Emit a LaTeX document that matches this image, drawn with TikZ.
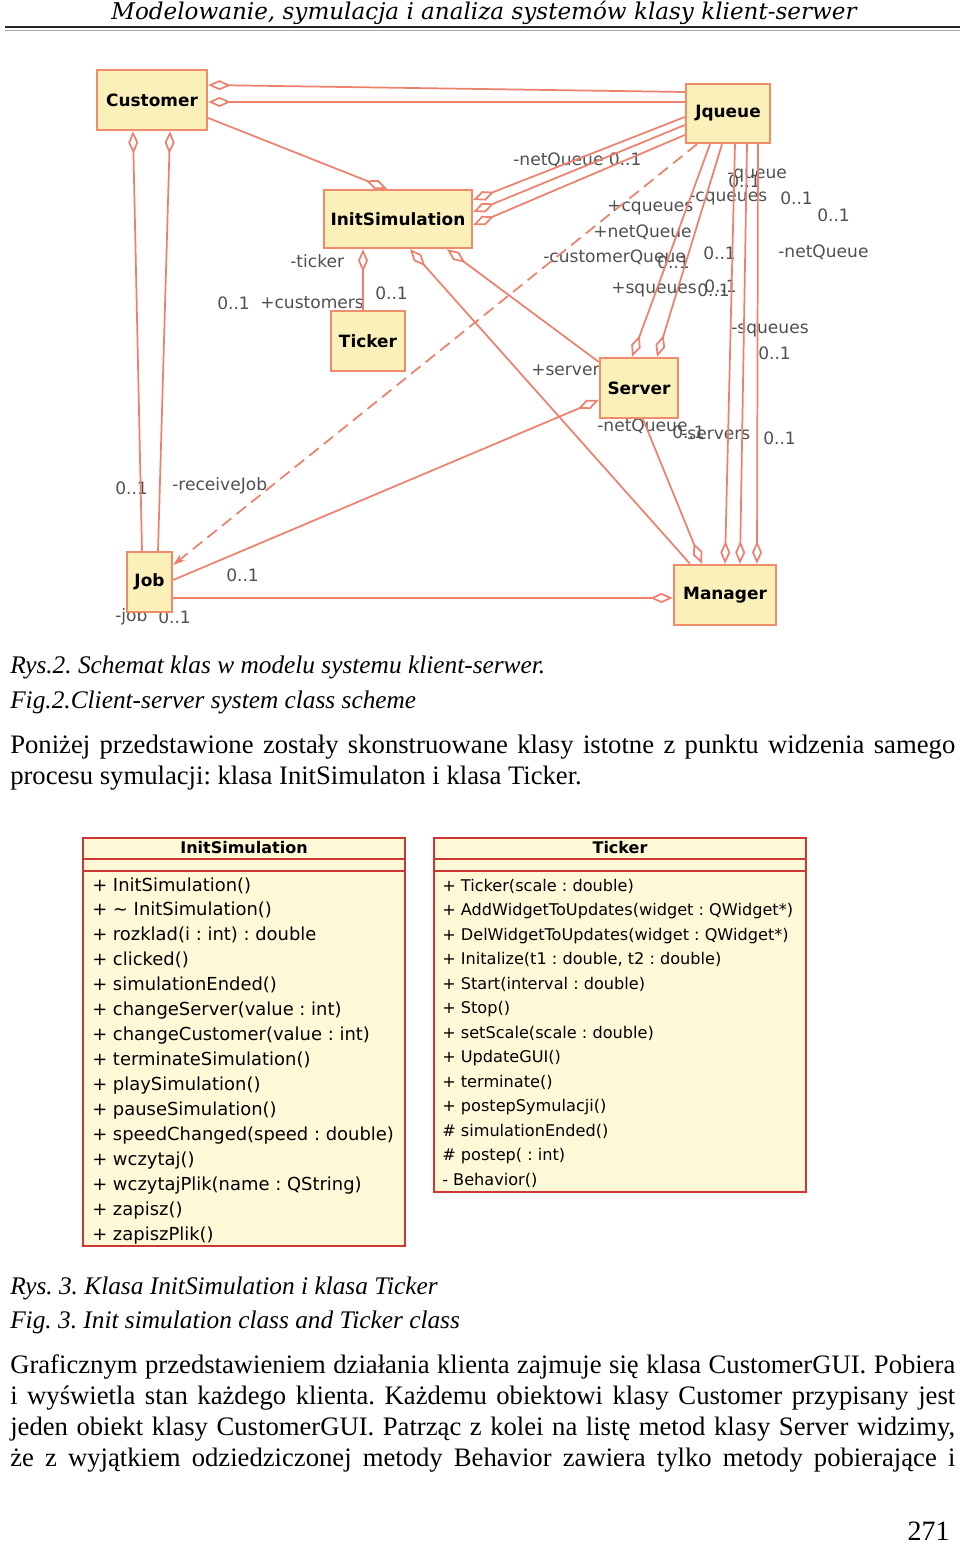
\documentclass[tikz,border=0pt]{standalone}
\usepackage{fontspec}
\setmainfont{Liberation Serif}
\setsansfont{DejaVu Sans}
\newfontfamily\headfont{DejaVu Serif}
\usetikzlibrary{positioning, arrows.meta, calc}
\definecolor{UMLline}{RGB}{238,128,110}
\definecolor{UMLedge}{RGB}{240,140,105}
\definecolor{UMLfill}{RGB}{251,240,185}
\definecolor{UMLtext}{RGB}{80,80,80}
\definecolor{BOXred}{RGB}{205,55,50}
\definecolor{BOXfill}{RGB}{255,249,215}
\tikzset{
  cls/.style={rectangle, draw=UMLedge, line width=1.8pt, fill=UMLfill, inner sep=0pt,
    font=\sffamily\bfseries\fontsize{12.7}{15}\selectfont},
  assoc/.style={line width=1.3pt, UMLline},
  aggfrom/.style={assoc, {Diamond[open, length=17pt, width=7.5pt]}-},
  aggto/.style={assoc, -{Diamond[open, length=17pt, width=7.5pt]}},
  dep/.style={assoc, dash pattern=on 9pt off 5pt, -{Stealth[length=9pt, width=6pt]}},
  lbl/.style={anchor=west, inner sep=0pt, text=UMLtext, font=\sffamily\fontsize{12.8}{15}\selectfont},
  classbox/.style={rectangle, draw=BOXred, line width=1.5pt, fill=BOXfill, inner sep=0pt},
  ctitle/.style={anchor=base, inner sep=0pt, font=\sffamily\bfseries\fontsize{12}{14}\selectfont},
  meth/.style={anchor=base west, inner sep=0pt, font=\sffamily\fontsize{13.45}{15}\selectfont},
  tmeth/.style={meth, font=\sffamily\fontsize{12.1}{15}\selectfont},
  txt/.style={anchor=base west, inner sep=0pt, font=\fontsize{20}{24}\selectfont},
  capt/.style={anchor=base west, inner sep=0pt, font=\itshape\fontsize{19}{23}\selectfont},
}
\newcommand{\fullline}[1]{\makebox[708.75pt][s]{#1}}
\frenchspacing

\begin{document}
\begin{tikzpicture}[x=0.75pt, y=-0.75pt]
  \fill[white] (0,0) rectangle (960,1544);
  \useasboundingbox (0,0) rectangle (960,1544);

  % running head
  \node[anchor=base, inner sep=0pt, font=\headfont\itshape\fontsize{17.3}{20}\selectfont] (head) at (484,19.5)
    {Modelowanie, symulacja i analiza systemów klasy klient-serwer};
  \coordinate (hl) at (5,27);
  \coordinate (hr) at (960,27);
  \draw[line width=1.8pt, black!85] (hl) -- (hr);
  \draw[line width=1pt, black!35] ($(hl)+(0,3.5)$) -- ($(hr)+(0,3.5)$);

  % association labels
  \node[lbl] (lnq1) at (513,160) {-netQueue 0..1};
  \node[lbl] (lq) at (727,175) {-queue};
  \node[lbl] (lq1) at (728,181) {0..1};
  \node[lbl] (lcq) at (689,198) {-cqueues};
  \node[lbl] (lcq1) at (780,198) {0..1};
  \node[lbl] (lx1) at (817,215) {0..1};
  \node[lbl] (lpcq) at (607,208) {+cqueues};
  \node[lbl] (lpnq) at (593,232) {+netQueue};
  \node[lbl] (lcusq) at (543,257) {-customerQueue};
  \node[lbl] (lcusq1) at (657,262) {0..1};
  \node[lbl] (lx2) at (703,253) {0..1};
  \node[lbl] (lnq2) at (778,252) {-netQueue};
  \node[lbl] (lpsq) at (611,290) {+squeues};
  \node[lbl] (lpsq1) at (697,290) {0..1};
  \node[lbl] (lpsq2) at (704,286) {0..1};
  \node[lbl] (lsq) at (731,330) {-squeues};
  \node[lbl] (lsq1) at (758,353) {0..1};
  \node[lbl] (lsrv) at (531,370) {+servers};
  \node[lbl] (lnq3) at (597,426) {-netQueue};
  \node[lbl] (lnq31) at (672,432) {0..1};
  \node[lbl] (lsrvs) at (681,435) {-servers};
  \node[lbl] (lsrvs1) at (763,438) {0..1};
  \node[lbl] (ltick) at (290,261) {-ticker};
  \node[lbl] (ltick1) at (375,293) {0..1};
  \node[lbl] (lcust1) at (217,303) {0..1};
  \node[lbl] (lcust) at (260,303) {+customers};
  \node[lbl] (lrj1) at (115,488) {0..1};
  \node[lbl] (lrj) at (172,486) {-receiveJob};
  \node[lbl] (ljob1) at (226,575) {0..1};
  \node[lbl] (ljob) at (115,617) {-job};
  \node[lbl] (ljob2) at (158,617) {0..1};

  % classes
  \node[cls, minimum width=82.5pt, minimum height=45pt] (cust) at (152,100) {Customer};
  \node[cls, minimum width=63pt, minimum height=44.25pt] (jq) at (728,113.5) {Jqueue};
  \node[cls, minimum width=111pt, minimum height=43.5pt] (init) at (398,219) {InitSimulation};
  \node[cls, minimum width=55.5pt, minimum height=45pt] (tick) at (368,341) {Ticker};
  \node[cls, minimum width=58.5pt, minimum height=45pt] (srv) at (639,388) {Server};
  \node[cls, minimum width=33.75pt, minimum height=45pt] (job) at (149.5,582) {Job};
  \node[cls, minimum width=76.5pt, minimum height=45pt] (mgr) at (725,595) {Manager};

  \draw[aggfrom] ($(cust.east)+(0,-15)$) -- ($(jq.west)+(0,-21.5)$);
  \draw[aggfrom] ($(cust.east)+(0,2)$) -- ($(jq.west)+(0,-11.5)$);
  \draw[aggfrom] ($(cust.south)+(-19,0)$) -- ($(job.north)+(-7.5,0)$);
  \draw[aggfrom] ($(cust.south)+(18,0)$) -- ($(job.north)+(8.5,0)$);
  \draw[aggto] ($(cust.east)+(0,18)$) -- ($(init.north)+(-11,0)$);
  \draw[aggfrom] ($(init.east)+(0,-19)$) -- ($(jq.west)+(0,3.5)$);
  \draw[aggfrom] ($(init.east)+(0,-7)$) -- ($(jq.west)+(0,11.5)$);
  \draw[aggfrom] ($(init.east)+(0,6)$) -- ($(jq.west)+(0,21.5)$);
  \draw[dep] ($(jq.south)+(-31,0)$) -- ($(job.east)+(0,-17)$);
  \draw[aggto] ($(jq.south)+(-18,0)$) -- ($(srv.north)+(-7,0)$);
  \draw[aggto] ($(jq.south)+(-6,0)$) -- ($(srv.north)+(18,0)$);
  \draw[aggto] ($(jq.south)+(7,0)$) -- ($(mgr.north)+(0,0)$);
  \draw[aggto] ($(jq.south)+(19,0)$) -- ($(mgr.north)+(15,0)$);
  \draw[aggto] ($(jq.south)+(30,0)$) -- ($(mgr.north)+(32,0)$);
  \draw[aggfrom] ($(init.south)+(-35,0)$) -- ($(tick.north)+(-5,0)$);
  \draw[aggfrom] ($(init.south)+(12,0)$) -- ($(mgr.north)+(-35,0)$);
  \draw[aggfrom] ($(init.south)+(49,0)$) -- ($(srv.west)+(0,-26)$);
  \draw[aggfrom] ($(srv.west)+(0,12)$) -- ($(job.east)+(0,-2)$);
  \draw[aggto] ($(srv.south)+(4,0)$) -- ($(mgr.north)+(-23,0)$);
  \draw[aggto] ($(job.east)+(0,16)$) -- ($(mgr.west)+(0,3)$);

  \node[capt] (rys2) at (10,673) {Rys.2. Schemat klas w modelu systemu klient-serwer.};
  \node[capt] (fig2) at (10,708) {Fig.2.Client-server system class scheme};
  \node[txt] (p1a) at (10,753) {\fullline{Poniżej przedstawione zostały skonstruowane klasy istotne z punktu widzenia samego}};
  \node[txt] (p1b) at (10,784) {procesu symulacji: klasa InitSimulaton i klasa Ticker.};

  % class InitSimulation
  \node[classbox, minimum width=241.5pt, minimum height=306pt] (initbox) at (244,1042) {};
  \node[ctitle] (inittitle) at (244,853) {InitSimulation};
  \draw[BOXred, line width=1.2pt] ($(initbox.north west)+(0,22)$) -- ($(initbox.north east)+(0,22)$);
  \draw[BOXred, line width=1.2pt] ($(initbox.north west)+(0,34)$) -- ($(initbox.north east)+(0,34)$);
  \foreach \m [count=\i from 0] in {+ InitSimulation(), + \textasciitilde{} InitSimulation(),
      + rozklad(i : int) : double, + clicked(), + simulationEnded(), + changeServer(value : int),
      + changeCustomer(value : int), + terminateSimulation(), + playSimulation(),
      + pauseSimulation(), + speedChanged(speed : double), + wczytaj(),
      + wczytajPlik(name : QString), + zapisz(), + zapiszPlik()}
    \node[meth] (im\i) at (92,891+24.93*\i) {\m};

  % class Ticker
  \node[classbox, minimum width=279pt, minimum height=265.5pt] (tickbox) at (620,1015) {};
  \node[ctitle] (ticktitle) at (620,853) {Ticker};
  \draw[BOXred, line width=1.2pt] ($(tickbox.north west)+(0,22)$) -- ($(tickbox.north east)+(0,22)$);
  \draw[BOXred, line width=1.2pt] ($(tickbox.north west)+(0,34)$) -- ($(tickbox.north east)+(0,34)$);
  \foreach \m [count=\i from 0] in {+ Ticker(scale : double), + AddWidgetToUpdates(widget : QWidget*),
      + DelWidgetToUpdates(widget : QWidget*), {+ Initalize(t1 : double, t2 : double)},
      + Start(interval : double), + Stop(), + setScale(scale : double), + UpdateGUI(),
      + terminate(), + postepSymulacji(), \# simulationEnded(), \# postep( : int), - Behavior()}
    \node[tmeth] (tm\i) at (442,891+24.5*\i) {\m};

  \node[capt] (rys3) at (10,1294) {Rys. 3. Klasa InitSimulation i klasa Ticker};
  \node[capt] (fig3) at (10,1328) {Fig. 3. Init simulation class and Ticker class};
  \node[txt] (p2a) at (10,1373) {\fullline{Graficznym przedstawieniem działania klienta zajmuje się klasa CustomerGUI. Pobiera}};
  \node[txt] (p2b) at (10,1404) {\fullline{i wyświetla stan każdego klienta. Każdemu obiektowi klasy Customer przypisany jest}};
  \node[txt] (p2c) at (10,1435) {\fullline{jeden obiekt klasy CustomerGUI. Patrząc z kolei na listę metod klasy Server widzimy,}};
  \node[txt] (p2d) at (10,1466) {\fullline{że z wyjątkiem odziedziczonej metody Behavior zawiera tylko metody pobierające i}};

  \node[anchor=base east, inner sep=0pt, font=\fontsize{21}{25}\selectfont] (pnum) at (950,1540) {271};
\end{tikzpicture}
\end{document}
